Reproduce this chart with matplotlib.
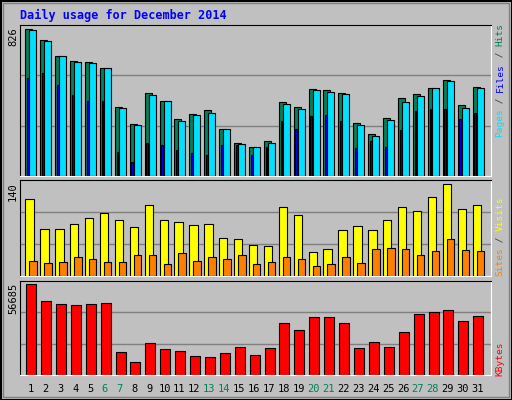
import matplotlib
matplotlib.use("Agg")
import matplotlib.pyplot as plt
import numpy as np

days = list(range(1, 32))
weekend = [6, 7, 13, 14, 20, 21, 27, 28]
hits = [826,764,675,647,641,608,390,295,468,423,323,351,373,267,188,166,200,418,390,490,485,468,300,239,328,440,462,496,541,401,502]
files = [820,759,675,641,636,608,384,289,457,423,311,345,356,267,183,166,188,406,379,485,474,462,289,227,317,418,451,496,535,384,496]
pages = [552,580,513,457,423,423,138,82,188,177,149,132,121,177,177,121,166,311,267,339,345,311,160,200,166,261,367,379,379,323,356]
visits = [117,72,72,79,88,97,85,75,108,85,82,78,79,59,56,47,46,105,93,37,41,70,76,70,85,105,100,120,140,103,108]
sites = [24,20,21,29,26,21,21,32,33,18,35,24,29,26,33,18,21,29,27,15,18,30,20,41,43,41,33,38,56,40,38]
kbytes = [56685,46096,44227,43604,44227,44850,14327,8098,19933,16196,14950,11835,11213,13704,17442,12458,16819,32391,28031,36129,36129,32391,16819,20556,17442,26785,37998,39244,40489,33638,36752]

W, H = 512, 400
BG = "#C0C0C0"
fig = plt.figure(figsize=(W/100, H/100), dpi=100, facecolor=BG)
MONO = "DejaVu Sans Mono"

def ax_at(y0, y1):
    a = fig.add_axes([20/W, 1-y1/H, 471/W, (y1-y0)/H])
    a.set_facecolor(BG)
    a.set_xlim(0.1, 31.7)
    a.set_xticks([]); a.set_yticks([])
    for s in ("top", "left"):
        a.spines[s].set_color("black")
    for s in ("bottom", "right"):
        a.spines[s].set_color("white")
    return a

x = np.array(days, dtype=float)
ec = dict(edgecolor="black", linewidth=0.8, align="edge")

# top panel
a1 = ax_at(25, 176.5)
top1 = max(hits) * 1.027
a1.set_ylim(0, top1)
for f in (1/3, 2/3):
    a1.axhline(top1*f, color="#808080", lw=1, zorder=0)
a1.bar(x-0.54, hits, 0.47, color="#00805C", zorder=2, **ec)
a1.bar(x-0.42, pages, 0.12, color="#0000FF", zorder=2.5, **ec)
a1.bar(x-0.27, files, 0.47, color="#00E0FF", zorder=3, **ec)

# middle panel
a2 = ax_at(180, 276.3)
top2 = max(visits) * 1.046
a2.set_ylim(0, top2)
for f in (1/3, 2/3):
    a2.axhline(top2*f, color="#808080", lw=1, zorder=0)
a2.bar(x-0.54, visits, 0.56, color="#FFFF00", zorder=2, **ec)
a2.bar(x-0.27, sites, 0.5, color="#FF8000", zorder=3, **ec)

# bottom panel
a3 = ax_at(281, 375.3)
top3 = max(kbytes) * 1.036
a3.set_ylim(0, top3)
for f in (1/3, 2/3):
    a3.axhline(top3*f, color="#808080", lw=1, zorder=0)
a3.bar(x-0.49, kbytes, 0.67, color="#FF0000", zorder=2, **ec)

# day labels
for d in days:
    px = 20 + (d - 0.1) / 31.6 * 471 - 3
    fig.text(px/W, 1-389/H, str(d), ha="center", va="center", fontsize=7.5,
             family=MONO, color="#00805C" if d in weekend else "black")

# title
fig.text(20/W, 1-15/H, "Daily usage for December 2014", fontsize=8.5, family=MONO,
         weight="bold", color="#0000FF", va="center", ha="left")

# max labels
for txt, y in (("826", 27), (str(max(visits)), 182), (str(max(kbytes)), 283)):
    fig.text(13/W, 1-y/H, txt, rotation=90, ha="center", va="top", fontsize=7.5, family=MONO)

# right labels (bottom-to-top)
FS = 6.8
CW = 0.602 * FS * 100 / 72
def rlabel(parts, ybottom):
    y = ybottom
    for t, c in parts:
        fig.text(500/W, 1-y/H, t, rotation=90, ha="center", va="bottom",
                 fontsize=FS, family=MONO, color=c)
        y -= len(t) * CW
rlabel([("Pages", "#00E0FF"), (" / ", "#404040"), ("Files", "#0000FF"),
        (" / ", "#404040"), ("Hits", "#00805C")], 137)
rlabel([("Sites", "#FF8000"), (" / ", "#404040"), ("Visits", "#FFFF00")], 276)
rlabel([("KBytes", "#FF0000")], 376)

# outer border
fig.add_artist(plt.Rectangle((0.5/W, 0.5/H), 1-1/W, 1-1/H, transform=fig.transFigure,
                             fill=False, edgecolor="black", lw=1.5))
fig.add_artist(plt.Rectangle((3/W, 3/H), 1-6/W, 1-6/H, transform=fig.transFigure,
                             fill=False, edgecolor="#808080", lw=1))

fig.savefig("out.png", dpi=100, facecolor=BG)
